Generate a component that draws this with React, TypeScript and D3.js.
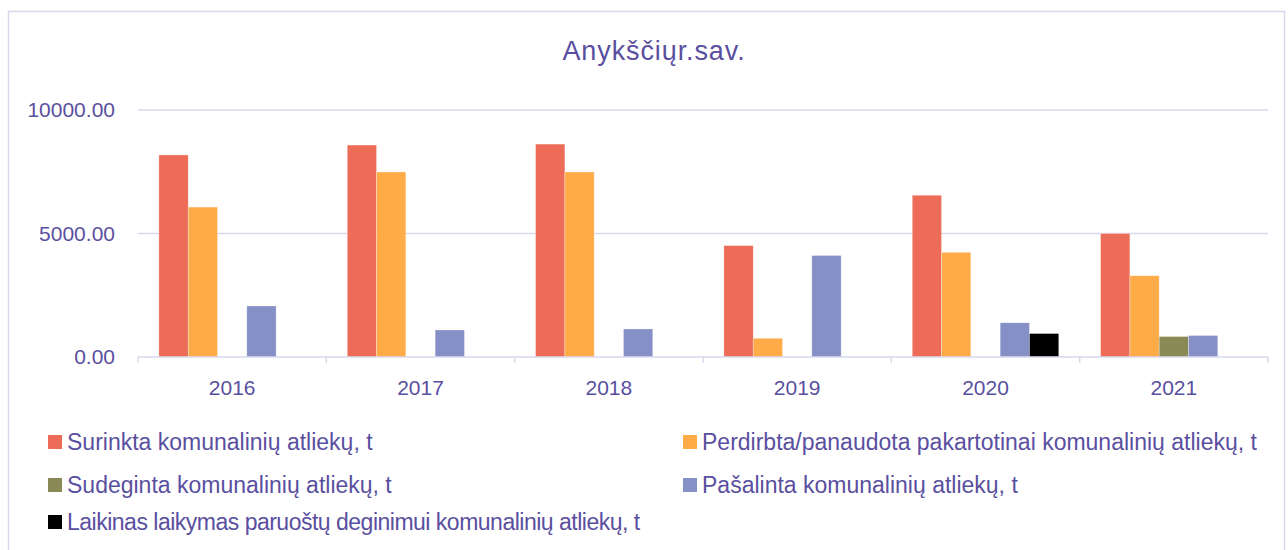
import React, { useEffect, useRef } from "react";
import * as d3 from "d3";

const years = ["2016", "2017", "2018", "2019", "2020", "2021"];

const seriesNames = [
  "Surinkta komunalinių atliekų, t",
  "Perdirbta/panaudota pakartotinai komunalinių atliekų, t",
  "Sudeginta komunalinių atliekų, t",
  "Pašalinta komunalinių atliekų, t",
  "Laikinas laikymas paruoštų deginimui komunalinių atliekų, t",
];

const surinkta = [8180, 8580, 8620, 4510, 6550, 5000];
const perdirbta = [6070, 7490, 7490, 760, 4240, 3290];
const sudeginta = [0, 0, 0, 0, 0, 830];
const pasalinta = [2065, 1095, 1135, 4110, 1385, 870];
const laikinas = [0, 0, 0, 0, 950, 0];

const yTicks = [0, 5000, 10000];

const colors = ["#ED6C57", "#FFAB48", "#8A8A56", "#8490C6", "#000000"];

const App: React.FC = () => {
  const ref = useRef<SVGSVGElement>(null);

  useEffect(() => {
    const width = 1288,
      height = 550;
    const left = 138,
      right = 1268,
      top = 110,
      bottom = 357;
    const textColor = "#5A4F9F";
    const lineColor = "#D9D7EC";
    const font = "'Liberation Sans', Arial, sans-serif";

    const svg = d3.select(ref.current);
    svg.selectAll("*").remove();
    svg.attr("width", width).attr("height", height);

    // chart frame
    svg
      .append("rect")
      .attr("x", 8.5)
      .attr("y", 11.5)
      .attr("width", 1276)
      .attr("height", 560)
      .attr("fill", "#fff")
      .attr("stroke", lineColor)
      .attr("stroke-width", 1.5);

    const allSeries = [surinkta, perdirbta, sudeginta, pasalinta, laikinas];

    const x0 = d3
      .scaleBand()
      .domain(years)
      .range([left, right])
      .paddingInner(0.222)
      .paddingOuter(0.111);

    const x1 = d3
      .scaleBand()
      .domain(seriesNames)
      .range([0, x0.bandwidth()]);

    const y = d3.scaleLinear().domain([0, 10000]).range([bottom, top]);

    // Title
    svg
      .append("text")
      .attr("x", 654)
      .attr("y", 60)
      .attr("text-anchor", "middle")
      .attr("fill", textColor)
      .style("font-family", font)
      .style("font-size", "27px")
      .style("letter-spacing", "0.9px")
      .text("Anykščiųr.sav.");

    // grid lines
    svg
      .selectAll(".grid")
      .data(yTicks.filter((t) => t > 0))
      .enter()
      .append("line")
      .attr("x1", left)
      .attr("x2", right)
      .attr("y1", (d) => y(d))
      .attr("y2", (d) => y(d))
      .attr("stroke", lineColor)
      .attr("stroke-width", 1.5);

    // y labels
    svg
      .selectAll(".ylab")
      .data(yTicks)
      .enter()
      .append("text")
      .attr("x", 115)
      .attr("y", (d) => y(d))
      .attr("dy", "0.35em")
      .attr("text-anchor", "end")
      .attr("fill", textColor)
      .style("font-family", font)
      .style("font-size", "21px")
      .text((d) => d.toFixed(2));

    // bars
    allSeries.forEach((vals, si) => {
      svg
        .selectAll(".bar-" + si)
        .data(vals.map((v, i) => ({ year: years[i], value: v })))
        .enter()
        .filter((d) => d.value > 0)
        .append("rect")
        .attr("x", (d) => x0(d.year)! + x1(seriesNames[si])!)
        .attr("y", (d) => y(d.value))
        .attr("width", x1.bandwidth())
        .attr("height", (d) => y(0) - y(d.value))
        .attr("fill", colors[si])
        .attr("stroke", "#fff")
        .attr("stroke-opacity", 0.5)
        .attr("stroke-width", 0.6);
    });

    // x axis
    svg
      .append("line")
      .attr("x1", left)
      .attr("x2", right)
      .attr("y1", bottom)
      .attr("y2", bottom)
      .attr("stroke", lineColor)
      .attr("stroke-width", 1.5);

    const boundaries = years.map((_, i) => left + i * x0.step()).concat([right]);
    svg
      .selectAll(".xtick")
      .data(boundaries)
      .enter()
      .append("line")
      .attr("x1", (d) => d)
      .attr("x2", (d) => d)
      .attr("y1", bottom)
      .attr("y2", bottom + 6)
      .attr("stroke", lineColor)
      .attr("stroke-width", 1.5);

    svg
      .selectAll(".xlab")
      .data(years)
      .enter()
      .append("text")
      .attr("x", (d) => x0(d)! + x0.bandwidth() / 2)
      .attr("y", 388)
      .attr("dy", "0.35em")
      .attr("text-anchor", "middle")
      .attr("fill", textColor)
      .style("font-family", font)
      .style("font-size", "21px")
      .text((d) => d);

    // legend
    const legendPos = [
      { x: 48, y: 442 },
      { x: 683, y: 442 },
      { x: 48, y: 485 },
      { x: 683, y: 485 },
      { x: 48, y: 522 },
    ];
    const legend = svg
      .selectAll(".legend")
      .data(seriesNames)
      .enter()
      .append("g")
      .attr("transform", (_, i) => `translate(${legendPos[i].x},${legendPos[i].y})`);

    legend
      .append("rect")
      .attr("x", 0)
      .attr("y", -7)
      .attr("width", 14)
      .attr("height", 14)
      .attr("fill", (_, i) => colors[i]);

    legend
      .append("text")
      .attr("x", 19)
      .attr("y", 0)
      .attr("dy", "0.35em")
      .attr("fill", textColor)
      .style("font-family", font)
      .style("font-size", "23px")
      .style("letter-spacing", (_, i) => (i === 4 ? "-0.5px" : "0px"))
      .text((d) => d);
  }, []);

  return (
    <svg
      ref={ref}
      style={{ position: "absolute", left: 0, top: 0, display: "block" }}
    ></svg>
  );
};

export default App;
